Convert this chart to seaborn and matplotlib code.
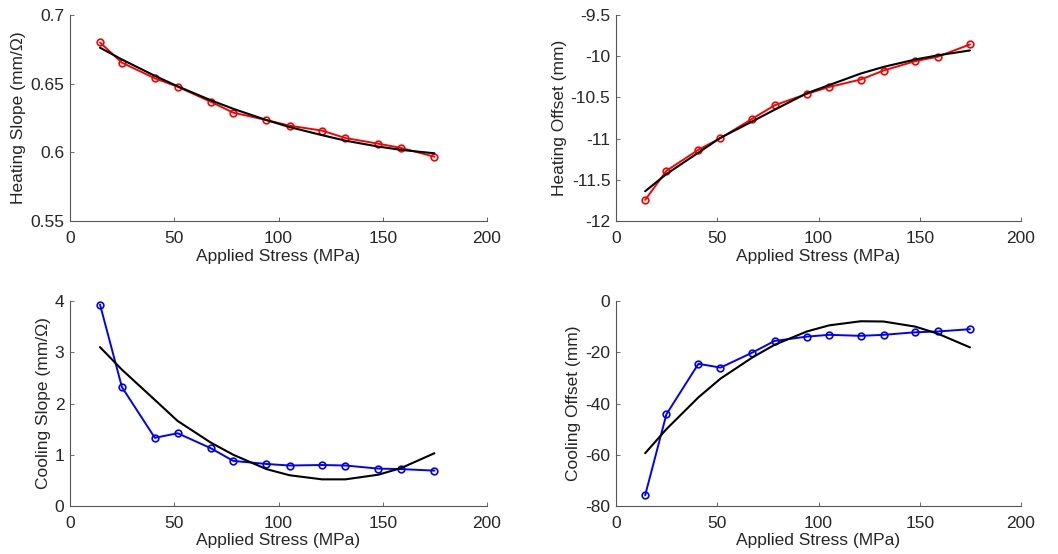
import numpy as np
import pandas as pd
import matplotlib
matplotlib.use("Agg")
import matplotlib.pyplot as plt
import seaborn as sns

stress = [14.4, 24.9, 40.7, 51.6, 67.4, 78.3, 94.2, 105.3, 120.9, 132.1, 147.8, 158.8, 174.8]

heat_slope = [0.680, 0.6653, 0.6539, 0.6478, 0.6369, 0.6289, 0.6235, 0.6194, 0.6158, 0.6104, 0.6063, 0.6032, 0.5968]
heat_slope_fit = [0.6762, 0.6676, 0.6557, 0.6481, 0.6380, 0.6317, 0.6235, 0.6184, 0.6125, 0.6085, 0.6042, 0.6018, 0.5993]

heat_offset = [-11.744, -11.391, -11.135, -10.994, -10.758, -10.596, -10.458, -10.373, -10.283, -10.174, -10.060, -10.007, -9.857]
heat_offset_fit = [-11.639, -11.43, -11.17, -10.99, -10.79, -10.65, -10.45, -10.35, -10.21, -10.13, -10.04, -9.99, -9.930]

cool_slope = [3.93, 2.32, 1.33, 1.42, 1.13, 0.88, 0.82, 0.79, 0.80, 0.79, 0.73, 0.72, 0.69]
cool_slope_fit = [3.10, 2.66, 2.07, 1.66, 1.24, 1.00, 0.72, 0.60, 0.52, 0.52, 0.61, 0.74, 1.03]

cool_offset = [-75.8, -44.2, -24.5, -26.0, -20.1, -15.6, -13.9, -13.2, -13.6, -13.2, -12.2, -11.9, -11.0]
cool_offset_fit = [-59.4, -50.0, -37.6, -30.3, -22.0, -17.1, -11.9, -9.5, -7.9, -8.0, -10.0, -12.7, -18.1]

ylabels = ["Heating Slope (mm/\u03a9)", "Heating Offset (mm)", "Cooling Slope (mm/\u03a9)", "Cooling Offset (mm)"]
xlabel = "Applied Stress (MPa)"
ylims = [(0.55, 0.7), (-12, -9.5), (0, 4), (-80, 0)]
yticks = [[0.55, 0.6, 0.65, 0.7], [-12, -11.5, -11, -10.5, -10, -9.5], [0, 1, 2, 3, 4], [-80, -60, -40, -20, 0]]
ytick_labels = [["0.55", "0.6", "0.65", "0.7"], ["-12", "-11.5", "-11", "-10.5", "-10", "-9.5"],
                ["0", "1", "2", "3", "4"], ["-80", "-60", "-40", "-20", "0"]]
xticks = [0, 50, 100, 150, 200]

sns.set_style("ticks")
plt.rcParams['font.family'] = ['Liberation Sans', 'DejaVu Sans']
plt.rcParams['font.size'] = 12.5
plt.rcParams['xtick.direction'] = 'in'
plt.rcParams['ytick.direction'] = 'in'

fig = plt.figure(figsize=(10.58, 5.54), dpi=100)
W, H = 1058, 554
boxes = [(70, 15, 487, 221), (616, 15, 1021, 221), (70, 301, 487, 506), (616, 301, 1021, 506)]
data = [(heat_slope, heat_slope_fit, "red"), (heat_offset, heat_offset_fit, "red"),
        (cool_slope, cool_slope_fit, "blue"), (cool_offset, cool_offset_fit, "blue")]

for i, ((l, t, r, b), (meas, fit, col)) in enumerate(zip(boxes, data)):
    ax = fig.add_axes([l / W, 1 - b / H, (r - l) / W, (b - t) / H])
    df = pd.DataFrame({"x": stress, "y": meas, "f": fit})
    sns.lineplot(data=df, x="x", y="y", ax=ax, color=col, lw=1.4, marker="o",
                 markersize=4.8, markerfacecolor="none", markeredgecolor=col, markeredgewidth=1.2,
                 zorder=2)
    sns.lineplot(data=df, x="x", y="f", ax=ax, color="black", lw=1.5, zorder=3)
    ax.set_xlim(0, 200)
    ax.set_ylim(*ylims[i])
    ax.set_xticks(xticks)
    ax.set_xticklabels([str(v) for v in xticks])
    ax.set_yticks(yticks[i])
    ax.set_yticklabels(ytick_labels[i])
    ax.set_xlabel(xlabel, fontsize=12.5, labelpad=2)
    ax.set_ylabel(ylabels[i], fontsize=12.5, labelpad=3)
    sns.despine(ax=ax)
    for s in ["left", "bottom"]:
        ax.spines[s].set_color("#555555")
        ax.spines[s].set_linewidth(0.8)
    ax.tick_params(axis="both", length=3, width=0.6, color="#555555", labelsize=12.5)
    ax.tick_params(axis="x", pad=7)
    ax.tick_params(axis="y", pad=4)

fig.savefig("out.png", dpi=100)
